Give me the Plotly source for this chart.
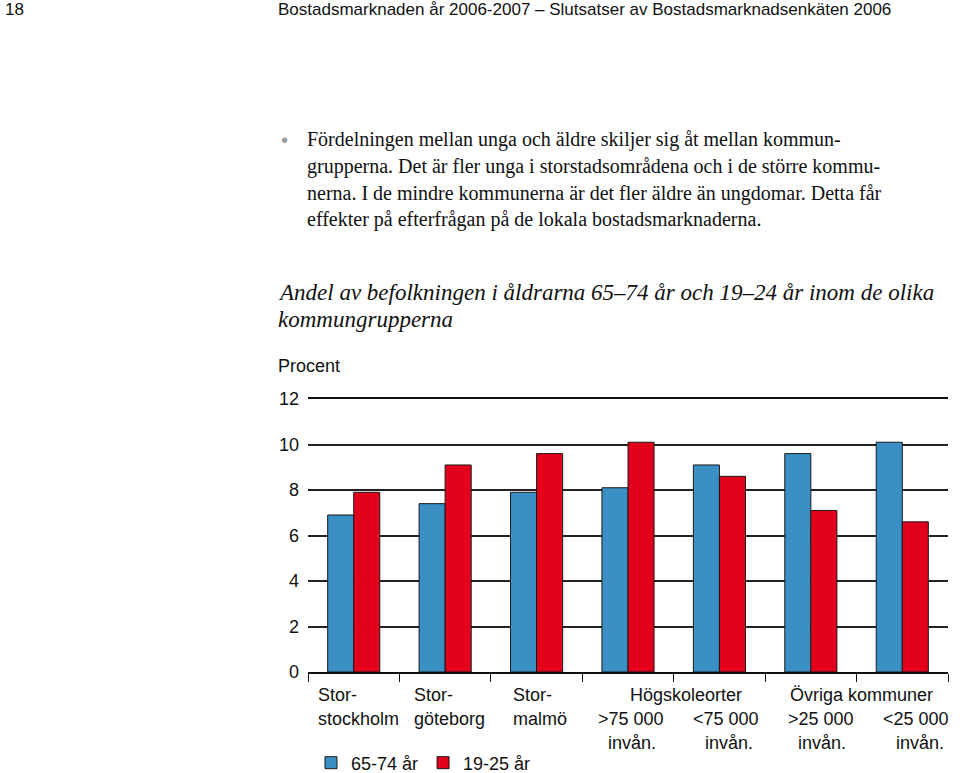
import plotly.graph_objects as go

# ---- data ----
categories = ["Storstockholm", "Storgöteborg", "Stormalmö",
              "Högskoleorter >75 000 invån.", "Högskoleorter <75 000 invån.",
              "Övriga kommuner >25 000 invån.", "Övriga kommuner <25 000 invån."]
series_names = ["65-74 år", "19-25 år"]
share_65_74 = [6.9, 7.4, 7.9, 8.1, 9.1, 9.6, 10.1]
share_19_25 = [7.9, 9.1, 9.6, 10.1, 8.6, 7.1, 6.6]
y_ticks = [0, 2, 4, 6, 8, 10, 12]

header_page = "18"
header_title = "Bostadsmarknaden år 2006-2007 – Slutsatser av Bostadsmarknadsenkäten 2006"
body_lines = [
    "Fördelningen mellan unga och äldre skiljer sig åt mellan kommun-",
    "grupperna. Det är fler unga i storstadsområdena och i de större kommu-",
    "nerna. I de mindre kommunerna är det fler äldre än ungdomar. Detta får",
    "effekter på efterfrågan på de lokala bostadsmarknaderna.",
]
caption_lines = [
    "Andel av befolkningen i åldrarna 65–74 år och 19–24 år inom de olika",
    "kommungrupperna",
]
y_title = "Procent"
# x labels: (text, pixel x, anchor, row)
x_labels = [
    ("Stor-", 316, "left", 0), ("stockholm", 316, "left", 1),
    ("Stor-", 412, "left", 0), ("göteborg", 412, "left", 1),
    ("Stor-", 511, "left", 0), ("malmö", 511, "left", 1),
    ("Högskoleorter", 686, "center", 0),
    (">75 000", 631, "center", 1), ("invån.", 632, "center", 2),
    ("<75 000", 726, "center", 1), ("invån.", 729, "center", 2),
    ("Övriga kommuner", 861, "center", 0),
    (">25 000", 821, "center", 1), ("invån.", 822, "center", 2),
    ("<25 000", 916, "center", 1), ("invån.", 920, "center", 2),
]

# ---- geometry ----
W, H = 960, 773
L, R = 308, 948
T, B = 399.3, 672.3


def px(x):
    return (x - L) / (R - L)


def py(y):
    return (B - y) / (B - T)


SANS = "Liberation Sans, Arial, sans-serif"
SERIF = "Liberation Serif, Times New Roman, serif"

fig = go.Figure()
fig.add_bar(x=categories, y=share_65_74, name=series_names[0],
            marker=dict(color="#3a8fc4", line=dict(color="#1a1a1a", width=1)))
fig.add_bar(x=categories, y=share_19_25, name=series_names[1],
            marker=dict(color="#e2001a", line=dict(color="#1a1a1a", width=1)))

ann = []


def add_text(text, x, y, size, family=SANS, anchor="left", color="#111", italic=False):
    ann.append(dict(text=f"<i>{text}</i>" if italic else text,
                    x=px(x), y=py(y), xref="paper", yref="paper",
                    xanchor=anchor, yanchor="middle", showarrow=False,
                    font=dict(size=size, family=family, color=color)))


add_text(header_page, 3, 10, 17)
add_text(header_title, 276, 10, 17)
add_text("•", 279, 140, 20, family=SANS, color="#9a9a9a")
for i, line in enumerate(body_lines):
    add_text(line, 305, 140 + i * 26.7, 20, family=SERIF)
for i, line in enumerate(caption_lines):
    add_text(line, 276, 293 + i * 27, 23, family=SERIF, italic=True)
add_text(y_title, 276, 366, 18)
for text, x, anchor, row in x_labels:
    add_text(text, x, 695 + row * 24, 18, anchor=anchor)

fig.update_layout(
    width=W, height=H, autosize=False,
    margin=dict(l=L, r=W - R, t=T, b=H - B, pad=0, autoexpand=False),
    paper_bgcolor="white", plot_bgcolor="white",
    barmode="group", bargap=0.43, bargroupgap=0,
    font=dict(family=SANS, size=18, color="#111"),
    annotations=ann,
    showlegend=True,
    legend=dict(orientation="h", xref="container", yref="container",
                x=311 / W, y=1 - 763 / H, xanchor="left", yanchor="middle",
                font=dict(size=18, family=SANS, color="#111"),
                bgcolor="rgba(0,0,0,0)", itemwidth=30, traceorder="normal"),
    xaxis=dict(showticklabels=False, ticks="outside", tickson="boundaries",
               ticklen=8, tickcolor="#111", tickwidth=1,
               showline=True, mirror=True, linecolor="#111", linewidth=1.5,
               showgrid=False, fixedrange=True),
    yaxis=dict(range=[0, 12], tickvals=y_ticks, ticktext=[str(v) for v in y_ticks],
               showgrid=True, gridcolor="#222", gridwidth=1.5,
               zeroline=False, showline=False, ticks="",
               ticklabelstandoff=8,
               tickfont=dict(size=18, family=SANS, color="#111"),
               fixedrange=True),
)

fig.write_html("out.html")
